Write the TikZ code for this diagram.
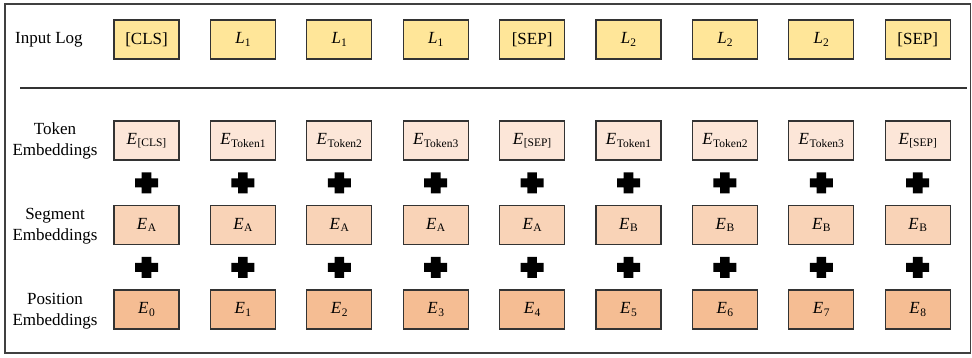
\documentclass[tikz,border=0pt]{standalone}
\usepackage{fontspec}
\setmainfont{Liberation Serif}
\usetikzlibrary{calc}
\begin{document}
\newcommand{\Emb}[1]{\textit{E}\kern0.5pt\raisebox{-0.28ex}{\fontsize{11.5}{12}\selectfont #1}}
\begin{tikzpicture}[x=1pt,y=-1pt,
  every node/.style={font=\fontsize{17}{21}\selectfont},
  tok/.style={draw=black!80, line width=1.2pt, minimum width=65pt, minimum height=39pt, inner sep=0pt},
  inlog/.style={tok, fill=inputcol},
  tokemb/.style={tok, fill=tokencol},
  segemb/.style={tok, fill=segcol},
  posemb/.style={tok, fill=poscol},
  rowlabel/.style={align=center, inner sep=0pt},
  plusmark/.style={fill=black}]
\definecolor{inputcol}{HTML}{FFE699}
\definecolor{tokencol}{HTML}{FCE6D8}
\definecolor{segcol}{HTML}{F9D3B7}
\definecolor{poscol}{HTML}{F5BD93}
\useasboundingbox (0,0) rectangle (972,357);
% outer frame and separator
\draw[black!75, line width=1.3pt] (5,4) rectangle (970.5,353);
\coordinate (sepL) at (20,88);
\coordinate (sepR) at (967,88);
\draw[black!80, line width=1.2pt] (sepL) -- (sepR);
% row labels
\node[rowlabel, anchor=west] (lbl0) at (15,40) {Input Log};
\node[rowlabel] (lbl1) at (55,141) {Token\\Embeddings};
\node[rowlabel] (lbl2) at (55,226) {Segment\\Embeddings};
\node[rowlabel] (lbl3) at (55,311) {Position\\Embeddings};
% boxes
\foreach \i/\inp/\tk/\sg in {
  0/{[CLS]}/{[CLS]}/A,
  1/{\textit{L}\raisebox{-0.28ex}{\fontsize{11.5}{12}\selectfont 1}}/Token1/A,
  2/{\textit{L}\raisebox{-0.28ex}{\fontsize{11.5}{12}\selectfont 1}}/Token2/A,
  3/{\textit{L}\raisebox{-0.28ex}{\fontsize{11.5}{12}\selectfont 1}}/Token3/A,
  4/{[SEP]}/{[SEP]}/A,
  5/{\textit{L}\raisebox{-0.28ex}{\fontsize{11.5}{12}\selectfont 2}}/Token1/B,
  6/{\textit{L}\raisebox{-0.28ex}{\fontsize{11.5}{12}\selectfont 2}}/Token2/B,
  7/{\textit{L}\raisebox{-0.28ex}{\fontsize{11.5}{12}\selectfont 2}}/Token3/B,
  8/{[SEP]}/{[SEP]}/B} {
  \pgfmathsetmacro{\cx}{146.5+96.4*\i}
  \node[inlog]  (in\i)  at (\cx,39.5)  {\inp};
  \node[tokemb] (tk\i)  at (\cx,140.5) {\Emb{\tk}};
  \node[segemb] (sg\i)  at (\cx,225.2) {\Emb{\sg}};
  \node[posemb] (ps\i)  at (\cx,309.5) {\Emb{\i}};
  % plus signs between the embedding rows, each one cross-shaped outline
  \coordinate (pa\i) at ($(tk\i.south)!0.5!(sg\i.north)$);
  \coordinate (pb\i) at ($(sg\i.south)!0.5!(ps\i.north)$);
  \foreach \p in {pa\i,pb\i} {
    \fill[plusmark] ([shift={(-11.5,-4.6)}]\p) -- ([shift={(-4.8,-4.6)}]\p)
      -- ([shift={(-4.8,-10.5)}]\p) -- ([shift={(4.8,-10.5)}]\p)
      -- ([shift={(4.8,-4.6)}]\p) -- ([shift={(11.5,-4.6)}]\p)
      -- ([shift={(11.5,4.6)}]\p) -- ([shift={(4.8,4.6)}]\p)
      -- ([shift={(4.8,10.5)}]\p) -- ([shift={(-4.8,10.5)}]\p)
      -- ([shift={(-4.8,4.6)}]\p) -- ([shift={(-11.5,4.6)}]\p) -- cycle;
  }
}
\end{tikzpicture}
\end{document}
